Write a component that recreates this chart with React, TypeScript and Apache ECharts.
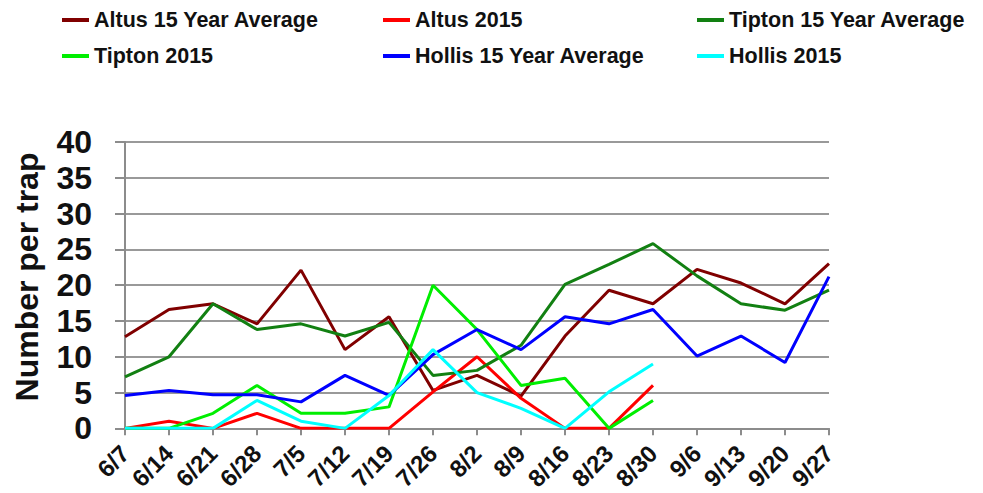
import React, { useEffect, useRef } from "react";
import * as echarts from "echarts";

const categories = ["6/7","6/14","6/21","6/28","7/5","7/12","7/19","7/26","8/2","8/9","8/16","8/23","8/30","9/6","9/13","9/20","9/27"];
const altusAvg = [12.8,16.6,17.4,14.6,22.1,11.0,15.6,5.3,7.4,4.5,12.9,19.3,17.4,22.2,20.3,17.4,23.0];
const altus2015 = [0,1.0,0,2.1,0,0,0,5.1,10.0,4.2,0,0,6.0,null,null,null,null];
const tiptonAvg = [7.2,10.0,17.4,13.8,14.6,12.9,14.8,7.4,8.1,11.6,20.1,22.9,25.8,21.3,17.4,16.5,19.3];
const tipton2015 = [0,0,2.1,6.0,2.1,2.1,3.0,20.0,13.8,6.0,7.0,0,3.9,null,null,null,null];
const hollisAvg = [4.6,5.3,4.7,4.7,3.7,7.4,4.6,10.3,13.8,11.0,15.6,14.6,16.6,10.1,12.9,9.2,21.2];
const hollis2015 = [0,0,0,3.9,1.0,0,4.6,11.0,5.0,2.8,0,5.1,9.0,null,null,null,null];

const seriesNames = ["Altus 15 Year Average","Altus 2015","Tipton 15 Year Average","Tipton 2015","Hollis 15 Year Average","Hollis 2015"];
const seriesData = [altusAvg, altus2015, tiptonAvg, tipton2015, hollisAvg, hollis2015];
const seriesColors = ["#800000","#ff0000","#128012","#00ee00","#0000ff","#00ffff"];

export default function App() {
  const ref = useRef<HTMLDivElement>(null);
  useEffect(() => {
    if (!ref.current) return;
    const chart = echarts.init(ref.current, null, { renderer: "svg" });
    const legendText = { fontFamily: "Liberation Sans, Arial", fontWeight: "bold", fontSize: 21.5, color: "#111" };
    const mkLegend = (left: number, data: string[]) => ({
      orient: "vertical",
      left,
      top: 9,
      itemGap: 14,
      itemWidth: 27,
      itemHeight: 4,
      icon: "rect",
      padding: 0,
      textStyle: legendText,
      data,
    });
    chart.setOption({
      animation: false,
      legend: [
        mkLegend(62, [seriesNames[0], seriesNames[3]]),
        mkLegend(383, [seriesNames[1], seriesNames[4]]),
        mkLegend(697, [seriesNames[2], seriesNames[5]]),
      ],
      grid: { left: 125, right: 154, top: 142, bottom: 63 },
      xAxis: {
        type: "category",
        data: categories,
        boundaryGap: false,
        axisLine: { lineStyle: { color: "#8c8c8c", width: 2 } },
        axisTick: { show: true, length: 7, interval: 0, lineStyle: { color: "#8c8c8c", width: 2 } },
        axisLabel: {
          interval: 0,
          rotate: 45,
          margin: 21,
          fontFamily: "Liberation Sans, Arial",
          fontWeight: "bold",
          fontSize: 24,
          color: "#111",
        },
        splitLine: { show: false },
      },
      yAxis: {
        type: "value",
        min: 0,
        max: 40,
        interval: 5,
        axisLine: { show: true, lineStyle: { color: "#8c8c8c", width: 2 } },
        axisTick: { show: true, length: 10, lineStyle: { color: "#8c8c8c", width: 2 } },
        axisLabel: {
          margin: 33,
          fontFamily: "Liberation Sans, Arial",
          fontWeight: "bold",
          fontSize: 32,
          color: "#111",
        },
        splitLine: { show: true, lineStyle: { color: "#999999", width: 2 } },
      },
      graphic: [
        {
          type: "text",
          x: 27,
          y: 277,
          rotation: Math.PI / 2,
          style: {
            text: "Number per trap",
            fontFamily: "Liberation Sans, Arial",
            fontWeight: "bold",
            fontSize: 32,
            fill: "#111",
            textAlign: "center",
            textVerticalAlign: "middle",
          },
        },
      ],
      series: seriesNames.map((name, i) => ({
        name,
        type: "line",
        data: seriesData[i],
        symbol: "none",
        showSymbol: false,
        connectNulls: false,
        color: seriesColors[i],
        lineStyle: { color: seriesColors[i], width: 3 },
      })),
    });
    return () => chart.dispose();
  }, []);
  return <div ref={ref} style={{ width: 983, height: 493, position: "absolute", left: 0, top: 0 }} />;
}
